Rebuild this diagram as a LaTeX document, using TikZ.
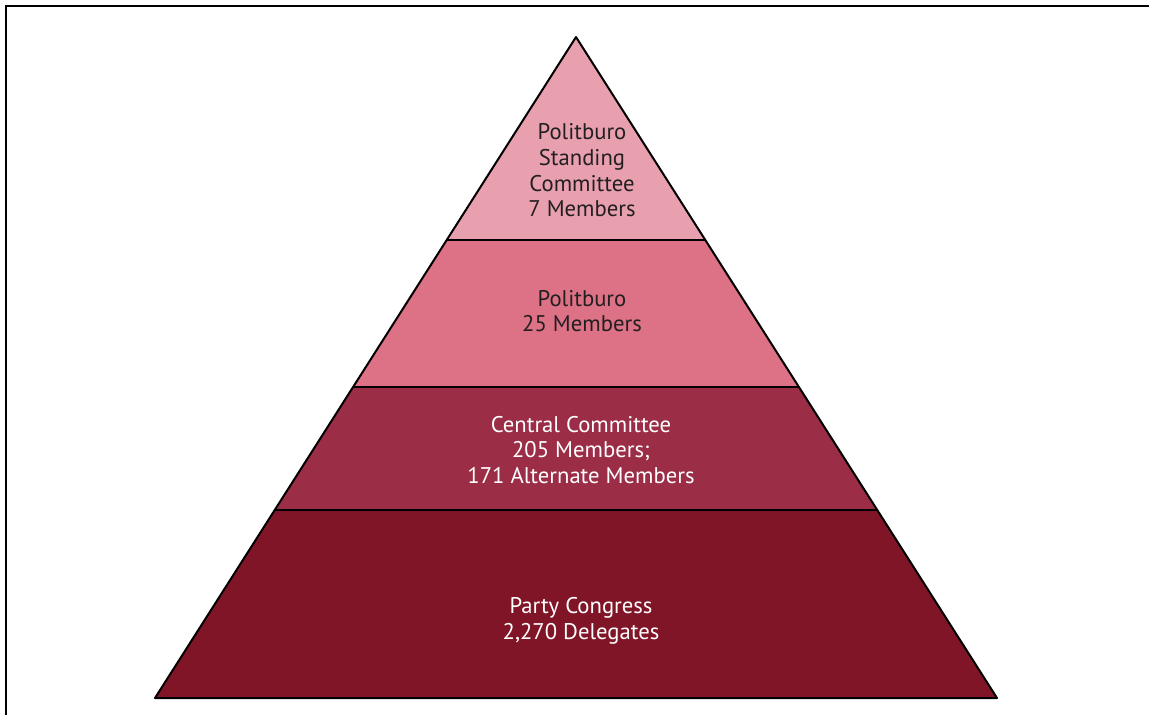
\documentclass[tikz,border=0pt]{standalone}
\usepackage{fontspec}
\setmainfont{PT Sans}
\usetikzlibrary{calc}
\definecolor{tierone}{RGB}{232,160,175}
\definecolor{tiertwo}{RGB}{221,113,133}
\definecolor{tierthree}{RGB}{155,45,70}
\definecolor{tierfour}{RGB}{129,21,40}
\definecolor{darktext}{RGB}{35,31,32}
\begin{document}
\begin{tikzpicture}[x=0.75pt,y=-0.75pt]
 \tikzstyle{edge} = [draw=black,line width=1.5pt,line join=round]
 \tikzstyle{label} = [align=center,inner sep=0,font=\fontsize{17}{19.3}\selectfont]
 \newcommand{\ta}{0.3071}
 \newcommand{\tb}{0.5295}
 \newcommand{\tc}{0.7156}

  \useasboundingbox (0,0) rectangle (1149,715);

  % Frame, only two sides show
  \draw[line width=1.7pt] (6,715) -- (6,6) -- (1149,6);

  \coordinate (apex) at (576,37);
  \coordinate (bl) at (155,698);
  \coordinate (br) at (997,698);
  \coordinate (l1) at ($(apex)!\ta!(bl)$);
  \coordinate (r1) at ($(apex)!\ta!(br)$);
  \coordinate (l2) at ($(apex)!\tb!(bl)$);
  \coordinate (r2) at ($(apex)!\tb!(br)$);
  \coordinate (l3) at ($(apex)!\tc!(bl)$);
  \coordinate (r3) at ($(apex)!\tc!(br)$);

  % Tiers
  \fill[tierone] (apex) -- (r1) -- (l1) -- cycle;
  \fill[tiertwo] (l1) -- (r1) -- (r2) -- (l2) -- cycle;
  \fill[tierthree] (l2) -- (r2) -- (r3) -- (l3) -- cycle;
  \fill[tierfour] (l3) -- (r3) -- (br) -- (bl) -- cycle;

  % Outline and dividers
  \draw[edge] (apex) -- (br) -- (bl) -- cycle;
  \draw[edge] (l1) -- (r1);
  \draw[edge] (l2) -- (r2);
  \draw[edge] (l3) -- (r3);

  % Labels
  \node[label,darktext] (standing) at (582,170.5) {Politburo\\Standing\\Committee\\7 Members};
  \node[label,darktext] (politburo) at (582,311) {Politburo\\25 Members};
  \node[label,white] (central) at (581,450) {Central Committee\\205 Members;\\171 Alternate Members};
  \node[label,white] (congress) at (581,621) {Party Congress\\2,270 Delegates};

\end{tikzpicture}
\end{document}
